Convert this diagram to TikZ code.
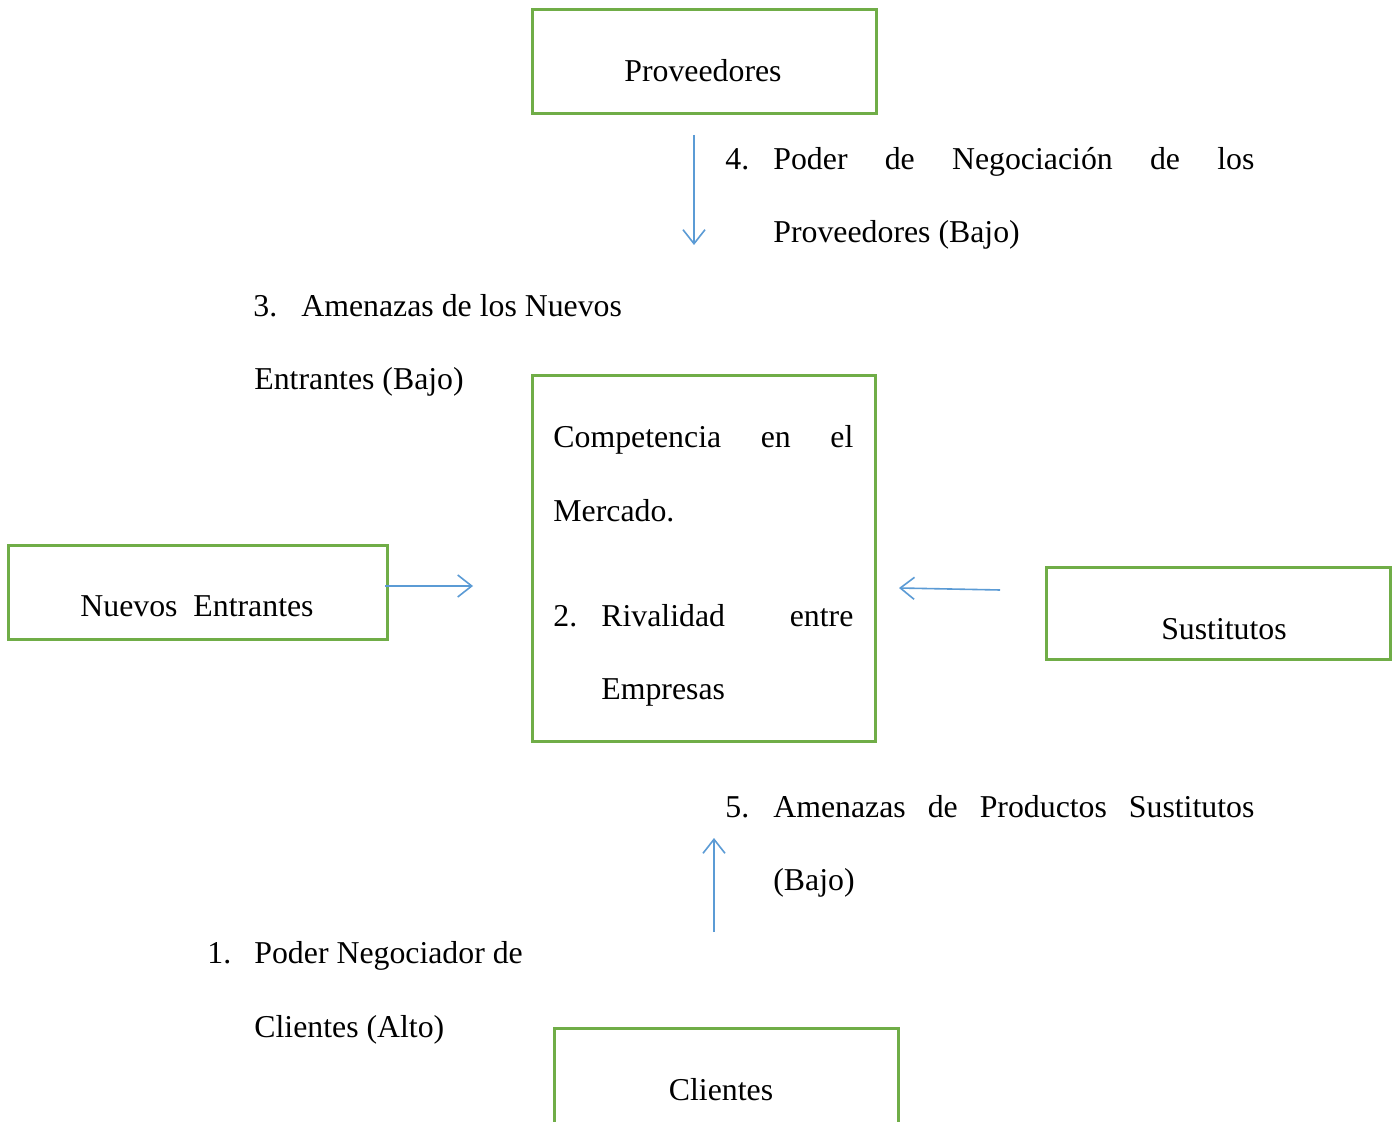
\documentclass[tikz,border=0pt]{standalone}
\usepackage{fontspec}
\setmainfont{Liberation Serif}
\usetikzlibrary{arrows.meta}
\definecolor{boxgreen}{HTML}{70AD47}
\definecolor{arrowblue}{HTML}{5B9BD5}
\tikzset{
  box/.style={draw=boxgreen, line width=1.5pt, rectangle, inner sep=0pt},
  txt/.style={inner sep=0pt, anchor=base west, font=\fontsize{15.9pt}{19pt}\selectfont},
  ctxt/.style={inner sep=0pt, anchor=base, font=\fontsize{15.9pt}{19pt}\selectfont},
  conn/.style={draw=arrowblue, line width=0.8pt, -{Straight Barb[length=7pt,width=11pt,line width=0.8pt]}}
}
\begin{document}
\begin{tikzpicture}[x=0.5pt,y=-0.5pt]
\useasboundingbox (0,0) rectangle (1398,1122);
\clip (0,0) rectangle (1398,1122);
\fill[white] (0,0) rectangle (1398,1122);
% boxes
\node[box, minimum width=172pt, minimum height=52pt] (prov) at (704,62) {};
\node[ctxt] (provt) at (703,82) {Proveedores};
\node[box, minimum width=171.5pt, minimum height=183pt] (comp) at (703.5,559) {};
\node[box, minimum width=189.5pt, minimum height=47pt] (nuev) at (197.5,593) {};
\node[ctxt] (nuevt) at (197,617) {Nuevos\ \ Entrantes};
\node[box, minimum width=172pt, minimum height=46pt] (sust) at (1218,614) {};
\node[ctxt] (sustt) at (1224,640) {Sustitutos};
\node[box, minimum width=172pt, minimum height=60pt] (clie) at (726,1088) {};
\node[ctxt] (cliet) at (721,1100) {Clientes};
% center text
\node[txt] (c1) at (553,448) {\hbox to 150pt{Competencia\hfill en\hfill el}};
\node[txt] (c2) at (553,522) {Mercado.};
\node[txt] (c3n) at (553,627) {2.};
\node[txt] (c3) at (601,627) {\hbox to 126pt{Rivalidad\hfill entre}};
\node[txt] (c4) at (601,700) {Empresas};
% labels
\node[txt] (l4n) at (725,170) {4.};
\node[txt] (l4) at (773,170) {\hbox to 240.5pt{Poder\hfill de\hfill Negociación\hfill de\hfill los}};
\node[txt] (l4b) at (773,243) {Proveedores (Bajo)};
\node[txt] (l3n) at (253,317) {3.};
\node[txt] (l3) at (301,317) {Amenazas de los Nuevos};
\node[txt] (l3b) at (254,390) {Entrantes (Bajo)};
\node[txt] (l5n) at (725,817) {5.};
\node[txt] (l5) at (773,817) {\hbox to 240.5pt{Amenazas\hfill de\hfill Productos\hfill Sustitutos}};
\node[txt] (l5b) at (773,890) {(Bajo)};
\node[txt] (l1n) at (207,963) {1.};
\node[txt] (l1) at (254,963) {Poder Negociador de};
\node[txt] (l1b) at (254,1037) {Clientes (Alto)};
% connectors
\coordinate (a4s) at (694,135);
\coordinate (a4e) at (694,245);
\draw[conn] (a4s) -- (a4e);
\coordinate (a3s) at (385,586);
\coordinate (a3e) at (473,586);
\draw[conn] (a3s) -- (a3e);
\coordinate (a5s) at (1000,590);
\coordinate (a5e) at (899,588);
\draw[conn] (a5s) -- (a5e);
\coordinate (a1s) at (714,932);
\coordinate (a1e) at (714,838);
\draw[conn] (a1s) -- (a1e);
\end{tikzpicture}
\end{document}
